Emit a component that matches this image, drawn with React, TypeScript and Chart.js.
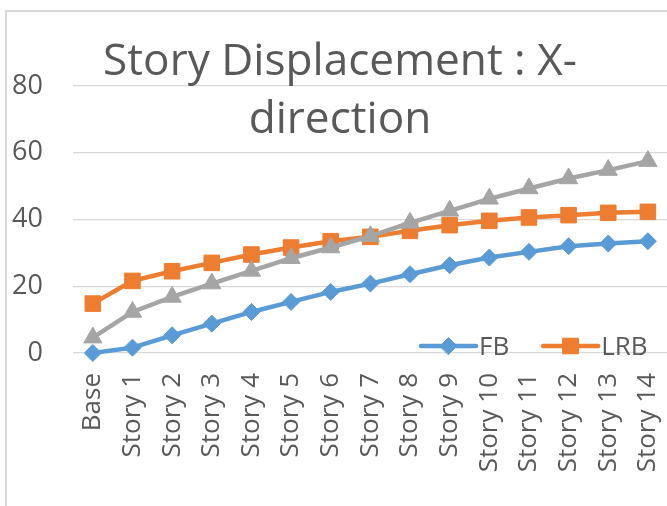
import React, { useEffect, useRef } from 'react';
import { Chart, registerables } from 'chart.js';
import { drawPoint } from 'chart.js/helpers';

Chart.register(...registerables);

const categories = [
  'Base', 'Story 1', 'Story 2', 'Story 3', 'Story 4', 'Story 5', 'Story 6', 'Story 7',
  'Story 8', 'Story 9', 'Story 10', 'Story 11', 'Story 12', 'Story 13', 'Story 14',
];
const fbValues = [0, 1.6, 5.3, 8.8, 12.3, 15.3, 18.3, 20.8, 23.6, 26.3, 28.6, 30.3, 32.0, 32.8, 33.5];
const lrbValues = [14.8, 21.6, 24.5, 27.0, 29.5, 31.6, 33.5, 34.8, 36.6, 38.3, 39.6, 40.6, 41.3, 42.0, 42.3];
const series3Values = [4.6, 12.3, 16.8, 20.8, 24.6, 28.4, 31.6, 35.0, 39.0, 42.6, 46.2, 49.3, 52.3, 54.8, 57.5];
const seriesNames = ['FB', 'LRB', 'Series 3'];
const legendSeries = ['FB', 'LRB'];
const yMin = 0;
const yMax = 80;
const yStep = 20;
const titleLines = ['Story Displacement : X-', 'direction'];

const FONT = "'Open Sans', 'Noto Sans', sans-serif";
const TEXT = '#595959';
const GRID = '#d9d9d9';

const overlayPlugin = {
  id: 'overlay',
  beforeDraw(chart: any) {
    const ctx = chart.ctx;
    ctx.save();
    ctx.fillStyle = '#ffffff';
    ctx.fillRect(0, 0, chart.width, chart.height);
    ctx.strokeStyle = GRID;
    ctx.lineWidth = 2;
    ctx.strokeRect(6, 11, chart.width + 100, chart.height + 100);
    ctx.restore();
  },
  afterDraw(chart: any) {
    const ctx = chart.ctx;
    ctx.save();
    // Title (overlay)
    ctx.fillStyle = TEXT;
    ctx.textAlign = 'center';
    ctx.textBaseline = 'alphabetic';
    ctx.font = `42px ${FONT}`;
    const w = ctx.measureText(titleLines[0]).width;
    const size = 42 * 474 / w;
    ctx.font = `${size}px ${FONT}`;
    const cx = 340;
    ctx.fillText(titleLines[0], cx, 75);
    ctx.fillText(titleLines[1], cx, 133);

    // Legend (overlay)
    ctx.font = `26px ${FONT}`;
    ctx.textAlign = 'left';
    let x = 421;
    const y = 346;
    chart.data.datasets.forEach((ds: any) => {
      if (!legendSeries.includes(ds.label)) return;
      ctx.strokeStyle = ds.borderColor;
      ctx.fillStyle = ds.backgroundColor;
      ctx.lineWidth = ds.borderWidth;
      ctx.lineCap = 'round';
      ctx.beginPath();
      ctx.moveTo(x, y);
      ctx.lineTo(x + 55, y);
      ctx.stroke();
      ctx.lineWidth = ds.pointBorderWidth;
      drawPoint(ctx, { pointStyle: ds.pointStyle, radius: ds.pointRadius, rotation: 0, borderWidth: ds.pointBorderWidth }, x + 27.5, y);
      ctx.fillStyle = TEXT;
      ctx.fillText(ds.label, x + 58, 355);
      x += 58 + ctx.measureText(ds.label).width + 34;
    });
    ctx.restore();
  },
};

export default function App() {
  const ref = useRef<HTMLCanvasElement>(null);
  useEffect(() => {
    if (!ref.current) return;
    const colors = ['#5b9bd5', '#ed7d31', '#a5a5a5'];
    const styles = ['rectRot', 'rect', 'triangle'];
    const radii = [8.5, 11, 10.5];
    const values = [fbValues, lrbValues, series3Values];
    const chart = new Chart(ref.current, {
      type: 'line',
      data: {
        labels: categories,
        datasets: values.map((v, i) => ({
          label: seriesNames[i],
          data: v,
          borderColor: colors[i],
          backgroundColor: colors[i],
          pointBackgroundColor: colors[i],
          pointBorderColor: colors[i],
          borderWidth: 4.5,
          pointStyle: styles[i],
          pointRadius: radii[i],
          pointBorderWidth: 1,
          tension: 0,
          clip: false,
          order: 2 - i,
        })),
      },
      options: {
        responsive: false,
        animation: false,
        devicePixelRatio: 1,
        layout: { padding: { top: 86, left: 0, right: 27, bottom: 0 } },
        plugins: {
          legend: { display: false },
          title: { display: false },
          tooltip: { enabled: false },
        },
        scales: {
          x: {
            offset: true,
            grid: { display: false, drawTicks: false },
            border: { display: false },
            ticks: {
              autoSkip: false,
              maxRotation: 90,
              minRotation: 90,
              padding: 20,
              color: TEXT,
              font: { family: FONT, size: 26 },
            },
            afterFit: (s: any) => { s.height = 153; },
          },
          y: {
            min: yMin,
            max: yMax,
            grid: { color: GRID, lineWidth: 1.3, drawTicks: false },
            border: { display: false },
            ticks: {
              stepSize: yStep,
              padding: 30,
              color: TEXT,
              font: { family: FONT, size: 27 },
            },
            afterFit: (s: any) => { s.width = 73; },
          },
        },
      },
      plugins: [overlayPlugin],
    });
    return () => chart.destroy();
  }, []);
  return (
    <div style={{ position: 'fixed', left: 0, top: 0, width: 667, height: 506, overflow: 'hidden', background: '#fff' }}>
      <canvas ref={ref} width={700} height={506} style={{ display: 'block', width: 700, height: 506 }} />
    </div>
  );
}
